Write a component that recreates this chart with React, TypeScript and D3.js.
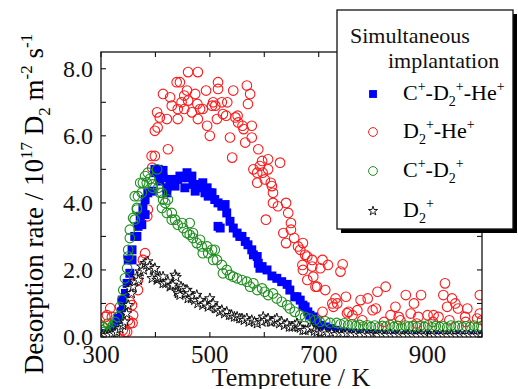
import React from 'react';
import * as d3 from 'd3';

// axis ticks
const xTickValues = [300, 400, 500, 600, 700, 800, 900, 1000];
const xTickLabels = [300, 500, 700, 900];
const yTickValues = [0, 1, 2, 3, 4, 5, 6, 7, 8];
const yTickLabels = [0, 2, 4, 6, 8];

// D2+-He+ (red open circles) [T (K), rate]
const dHe: [number, number][] = [
  [303, 0.3], [308, 0.6], [311, 0.65], [317, 0.86], [320, 0.6], [326, 0.2], [339, 0.8], [340, 0.2], [344, 0.15],
  [348, 0.15], [350, 0.5], [353, 0.4], [353, 1.05], [357, 0.95], [359, 0.65], [358, 0.42], [357, 1.6], [368, 1.4],
  [368, 1.7], [377, 2.3], [381, 2.5], [386, 3.8], [385, 3.6], [393, 5.4], [399, 5.4], [394, 5.05], [423, 5.6],
  [399, 6.15], [404, 6.25], [403, 6.7], [408, 6.55], [414, 7.25], [421, 6.5], [427, 7.15], [430, 6.9], [439, 7.6],
  [445, 7.6], [441, 6.8], [441, 6.5], [448, 7.0], [453, 7.2], [453, 6.8], [460, 7.9], [478, 7.9], [458, 7.35],
  [460, 7.05], [467, 6.7], [473, 7.25], [477, 6.95], [482, 6.8], [478, 6.5], [487, 6.8], [493, 7.35], [495, 6.3],
  [500, 6.0], [504, 6.9], [506, 7.0], [510, 6.9], [513, 6.5], [515, 7.6], [515, 7.4], [522, 7.0], [524, 6.65],
  [532, 7.0], [530, 6.6], [537, 5.95], [541, 5.35], [543, 7.35], [547, 6.55], [551, 6.6], [552, 6.4], [560, 6.3],
  [562, 6.2], [565, 5.8], [568, 7.5], [570, 6.95], [574, 7.25], [577, 5.95], [577, 6.3], [589, 5.6], [580, 5.0],
  [587, 4.9], [592, 5.1], [596, 5.25], [597, 4.9], [601, 4.7], [607, 5.3], [607, 5.0], [614, 4.5], [629, 5.2],
  [587, 4.6], [612, 4.6], [616, 4.3], [616, 4.0], [625, 3.9], [640, 4.0], [644, 3.7], [649, 3.4], [603, 3.5],
  [635, 3.1], [640, 2.8], [649, 3.2], [655, 2.95], [662, 2.7], [671, 2.8], [675, 2.45], [679, 2.4], [666, 2.6],
  [670, 2.15], [671, 2.0], [679, 1.7], [688, 2.3], [688, 2.1], [690, 1.8], [694, 1.5], [697, 1.5], [703, 2.05],
  [707, 2.3], [707, 0.75], [712, 1.4], [717, 2.15], [725, 1.0], [727, 0.9], [731, 1.15], [734, 1.0], [740, 1.95],
  [744, 2.17], [750, 1.2], [752, 0.71], [755, 0.75], [762, 0.65], [771, 0.8], [777, 1.1], [780, 0.5], [790, 1.15],
  [799, 0.8], [805, 0.85], [808, 1.35], [820, 0.45], [823, 1.5], [832, 0.65], [841, 0.9], [847, 0.6], [850, 0.5],
  [860, 1.25], [869, 0.7], [875, 1.0], [880, 0.4], [883, 0.6], [888, 1.25], [900, 0.65], [910, 0.45], [911, 0.65],
  [920, 0.6], [929, 1.25], [932, 1.6], [936, 0.9], [940, 0.5], [945, 1.15], [951, 1.0], [956, 0.85], [969, 0.6],
  [970, 0.45], [973, 0.85], [991, 0.55], [996, 1.25], [996, 0.7], [1000, 0.5],
];

// C+-D2+-He+ (blue squares)
const cdHe: [number, number][] = [
  [302, 0.1], [306, 0.05], [310, 0.1], [315, 0.12], [320, 0.2], [325, 0.3], [329, 0.4], [332, 0.55], [337, 0.75],
  [341, 0.9], [339, 1.1], [345, 1.3], [348, 1.6], [353, 1.9], [350, 2.3], [357, 2.3], [357, 2.6], [362, 3.0],
  [366, 3.0], [368, 3.3], [372, 3.6], [375, 3.35], [377, 3.85], [381, 4.1], [381, 3.65], [386, 4.3], [394, 4.35],
  [399, 4.9], [399, 5.0], [405, 5.0], [408, 4.65], [414, 4.75], [414, 4.97], [421, 4.45], [421, 4.3], [427, 4.6],
  [427, 4.7], [436, 4.5], [441, 4.7], [445, 4.8], [449, 4.75], [454, 4.45], [458, 4.9], [460, 4.75], [467, 4.8],
  [469, 4.55], [473, 4.35], [478, 4.45], [482, 4.55], [487, 4.6], [491, 4.3], [495, 4.45], [497, 4.2], [500, 4.3],
  [504, 4.3], [509, 4.1], [515, 4.0], [515, 3.3], [519, 3.25], [522, 3.9], [528, 3.95], [531, 3.7], [537, 3.45],
  [543, 3.25], [550, 3.1], [555, 3.0], [559, 3.0], [565, 2.85], [570, 2.75], [577, 2.6], [580, 2.45], [587, 2.4],
  [589, 2.2], [592, 2.05], [596, 2.1], [605, 2.0], [614, 1.82], [623, 1.75], [632, 1.65], [642, 1.57], [647, 1.4],
  [656, 1.2], [660, 1.2], [666, 1.1], [671, 0.95], [675, 0.9], [680, 0.75], [684, 0.65], [690, 0.6], [693, 0.5],
  [697, 0.42], [705, 0.35], [713, 0.3], [722, 0.25], [730, 0.2], [740, 0.15], [750, 0.12], [762, 0.1], [775, 0.1],
  [790, 0.08], [805, 0.08], [820, 0.06], [840, 0.06], [860, 0.05], [880, 0.05], [900, 0.05], [920, 0.04],
  [940, 0.04], [960, 0.04], [980, 0.04], [998, 0.04],
];

// C+-D2+ (green open circles)
const cD: [number, number][] = [
  [302, 0.2], [304, 0.3], [306, 0.15], [308, 0.25], [311, 0.1], [313, 0.4], [316, 0.2], [320, 0.27], [322, 0.35],
  [326, 0.45], [331, 0.6], [335, 0.9], [339, 1.1], [341, 1.4], [344, 1.75], [348, 2.05], [350, 2.4], [350, 2.6],
  [353, 2.95], [353, 3.2], [359, 3.55], [362, 3.5], [366, 3.8], [366, 3.85], [362, 4.2], [368, 4.2], [372, 4.6],
  [375, 4.3], [377, 4.6], [381, 4.8], [384, 4.6], [386, 4.9], [390, 4.72], [395, 4.55], [395, 4.45], [403, 5.0],
  [405, 4.45], [408, 4.3], [412, 4.3], [414, 4.1], [412, 3.85], [418, 4.0], [423, 4.1], [421, 3.7], [430, 3.7],
  [430, 3.5], [436, 3.5], [441, 3.35], [449, 3.4], [451, 3.25], [458, 3.1], [463, 3.4], [463, 3.05], [469, 3.1],
  [469, 2.95], [476, 2.8], [482, 2.9], [485, 2.7], [487, 2.5], [495, 2.7], [497, 2.5], [504, 2.6], [509, 2.6],
  [506, 2.3], [513, 2.3], [522, 2.15], [524, 1.9], [531, 2.0], [537, 1.85], [543, 1.8], [550, 1.75], [559, 1.7],
  [568, 1.65], [574, 1.5], [580, 1.6], [587, 1.4], [596, 1.45], [601, 1.35], [607, 1.25], [616, 1.3], [623, 1.15],
  [632, 1.05], [642, 0.95], [647, 0.85], [656, 0.75], [666, 0.65], [675, 0.6], [684, 0.55], [693, 0.5], [702, 0.45],
  [712, 0.47], [721, 0.42], [733, 0.42], [740, 0.38], [747, 0.41], [754, 0.35], [761, 0.38], [768, 0.33],
  [775, 0.36], [782, 0.31], [789, 0.35], [796, 0.3], [803, 0.34], [810, 0.29], [817, 0.33], [824, 0.31],
  [831, 0.36], [838, 0.3], [845, 0.33], [852, 0.28], [859, 0.34], [866, 0.31], [873, 0.33], [880, 0.29],
  [887, 0.34], [894, 0.3], [901, 0.35], [908, 0.29], [915, 0.33], [922, 0.3], [929, 0.32], [936, 0.28],
  [943, 0.34], [950, 0.31], [957, 0.33], [964, 0.29], [971, 0.32], [978, 0.3], [985, 0.34], [992, 0.3], [999, 0.32],
];

// D2+ (black open stars)
const d2: [number, number][] = [
  [302, 0.05], [308, 0.05], [314, 0.06], [320, 0.08], [325, 0.1], [329, 0.15], [335, 0.25], [340, 0.35], [344, 0.45],
  [347, 0.7], [350, 0.95], [353, 1.45], [356, 1.3], [359, 1.5], [362, 1.65], [366, 1.8], [369, 1.7], [372, 1.95],
  [375, 2.1], [378, 2.0], [381, 2.2], [384, 2.15], [386, 2.25], [389, 2.1], [394, 1.75], [396, 2.0], [399, 2.05],
  [403, 1.7], [405, 1.75], [408, 1.8], [414, 1.6], [414, 1.8], [419, 1.6], [423, 1.65], [427, 1.5], [430, 1.55],
  [432, 1.55], [436, 1.85], [438, 1.78], [440, 1.35], [442, 1.3], [445, 1.25], [447, 1.5], [451, 1.45], [455, 1.3],
  [458, 1.4], [460, 1.15], [463, 1.3], [466, 1.15], [469, 1.2], [472, 1.1], [476, 1.25], [478, 1.0], [482, 1.1],
  [487, 0.95], [491, 1.0], [497, 0.9], [500, 1.15], [503, 0.95], [506, 1.0], [510, 0.85], [513, 0.85], [518, 0.75],
  [522, 0.8], [527, 0.7], [531, 0.75], [536, 0.65], [540, 0.65], [545, 0.6], [550, 0.6], [555, 0.55], [559, 0.55],
  [563, 0.5], [568, 0.55], [572, 0.45], [577, 0.5], [582, 0.45], [587, 0.4], [592, 0.5], [596, 0.45], [598, 0.6],
  [603, 0.5], [607, 0.55], [611, 0.45], [614, 0.45], [619, 0.5], [623, 0.55], [628, 0.4], [632, 0.45], [637, 0.35],
  [642, 0.4], [646, 0.3], [651, 0.3], [656, 0.35], [660, 0.4], [663, 0.3], [666, 0.27], [671, 0.2], [675, 0.2],
  [681, 0.25], [687, 0.27], [692, 0.18], [697, 0.15], [703, 0.12], [710, 0.15], [717, 0.1], [724, 0.12], [731, 0.08],
  [738, 0.1], [745, 0.08], [752, 0.1], [760, 0.07], [768, 0.08], [776, 0.06], [784, 0.08], [792, 0.06], [800, 0.07],
  [808, 0.05], [816, 0.07], [824, 0.05], [832, 0.06], [840, 0.05], [848, 0.06], [856, 0.04], [864, 0.06], [872, 0.05],
  [880, 0.04], [888, 0.06], [896, 0.05], [904, 0.04], [912, 0.05], [920, 0.04], [928, 0.05], [936, 0.04], [944, 0.05],
  [952, 0.04], [960, 0.05], [968, 0.04], [976, 0.05], [984, 0.04], [992, 0.05], [999, 0.04],
];

const RED = '#ff1a1a';
const GREEN = '#1f8f1f';
const BLUE = '#0000ff';
const FONT = '"Liberation Serif", "Times New Roman", serif';

type Seg = [string, 'n' | 'sup' | 'sub'];

function Rich({ segs, x = 0, y = 0, size, small, anchor = 'start', transform }: {
  segs: Seg[]; x?: number; y?: number; size: number; small: number; anchor?: string; transform?: string;
}) {
  let off = 0;
  return (
    <text x={x} y={y} fontSize={size} textAnchor={anchor} transform={transform} style={{ whiteSpace: 'pre' }}>
      {segs.map(([t, k], i) => {
        const target = k === 'sup' ? -size * 0.42 : k === 'sub' ? size * 0.25 : 0;
        const dy = target - off;
        off = target;
        return <tspan key={i} dy={dy} fontSize={k === 'n' ? size : small}>{t}</tspan>;
      })}
    </text>
  );
}

export default function App() {
  const W = 518, H = 389;
  const left = 101, right = 482, top = 52, bottom = 337;

  const x = d3.scaleLinear().domain([300, 1000]).range([left, right]);
  const y = d3.scaleLinear().domain([0, 8.5]).range([bottom, top]);

  const square = d3.symbol(d3.symbolSquare, 80)()!;
  const star = d3.symbol(d3.symbolStar, 34)()!;
  const legSquare = d3.symbol(d3.symbolSquare, 62)()!;
  const legStar = d3.symbol(d3.symbolStar, 26)()!;

  const tick = 5;

  const legendRows: { segs: Seg[]; kind: string }[] = [
    { segs: [['C', 'n'], ['+', 'sup'], ['-D', 'n'], ['2', 'sub'], ['+', 'sup'], ['-He', 'n'], ['+', 'sup']], kind: 'sq' },
    { segs: [['D', 'n'], ['2', 'sub'], ['+', 'sup'], ['-He', 'n'], ['+', 'sup']], kind: 'red' },
    { segs: [['C', 'n'], ['+', 'sup'], ['-D', 'n'], ['2', 'sub'], ['+', 'sup']], kind: 'green' },
    { segs: [['D', 'n'], ['2', 'sub'], ['+', 'sup']], kind: 'star' },
  ];
  const legRowY = [100, 138, 177, 217];

  return (
    <div style={{ position: 'absolute', left: 0, top: 0 }}>
      <svg width={W} height={H} viewBox={`0 0 ${W} ${H}`} style={{ display: 'block', background: '#fff' }} fontFamily={FONT}>
        <defs>
          <clipPath id="plot">
            <rect x={left} y={top} width={right - left} height={bottom - top} />
          </clipPath>
        </defs>

        {/* data */}
        <g clipPath="url(#plot)">
          <g>
            {dHe.map(([t, v], i) => (
              <circle key={i} cx={x(t)} cy={y(v)} r={4.8} fill="none" stroke={RED} strokeWidth={1.1} />
            ))}
          </g>
          <g fill={BLUE}>
            {cdHe.map(([t, v], i) => (
              <path key={i} d={square} transform={`translate(${x(t)},${y(v)})`} />
            ))}
          </g>
          <g>
            {cD.map(([t, v], i) => (
              <circle key={i} cx={x(t)} cy={y(v)} r={4.8} fill="none" stroke={GREEN} strokeWidth={1.1} />
            ))}
          </g>
          <g>
            {d2.map(([t, v], i) => (
              <path key={i} d={star} transform={`translate(${x(t)},${y(v)})`} fill="#fff" stroke="#000" strokeWidth={0.9} />
            ))}
          </g>
        </g>

        {/* frame and ticks */}
        <rect x={left} y={top} width={right - left} height={bottom - top} fill="none" stroke="#111" strokeWidth={1.3} />
        <g stroke="#111" strokeWidth={1.1}>
          {xTickValues.map(t => (
            <g key={t}>
              <line x1={x(t)} x2={x(t)} y1={bottom} y2={bottom - tick} />
              <line x1={x(t)} x2={x(t)} y1={top} y2={top + tick} />
            </g>
          ))}
          {yTickValues.map(v => (
            <g key={v}>
              <line x1={left} x2={left + tick} y1={y(v)} y2={y(v)} />
              <line x1={right} x2={right - tick} y1={y(v)} y2={y(v)} />
            </g>
          ))}
        </g>

        {/* tick labels */}
        <g fontSize={25} fill="#111">
          {xTickLabels.map(t => (
            <text key={t} x={x(t)} y={363} textAnchor="middle">{t}</text>
          ))}
        </g>
        <g fontSize={24} fill="#111">
          {yTickLabels.map(v => (
            <text key={v} x={93} y={y(v)} dy="0.34em" textAnchor="end">{v.toFixed(1)}</text>
          ))}
        </g>

        {/* axis titles */}
        <text x={291} y={386} fontSize={26} textAnchor="middle" fill="#111">Tempreture / K</text>
        <Rich
          transform="translate(43,204) rotate(-90)"
          anchor="middle"
          size={27}
          small={17}
          segs={[
            ['Desorption rate / 10', 'n'], ['17', 'sup'], [' D', 'n'], ['2', 'sub'], [' m', 'n'],
            ['-2', 'sup'], [' s', 'n'], ['-1', 'sup'],
          ]}
        />

        {/* legend */}
        <rect x={341} y={14} width={176} height={219} fill="#000" />
        <rect x={337} y={10} width={176} height={219} fill="#fff" stroke="#111" strokeWidth={1.3} />
        <g fontSize={22} fill="#111">
          <text x={350} y={43}>Simultaneous</text>
          <text x={388} y={68}>implantation</text>
        </g>
        {legendRows.map((r, i) => {
          const cy = legRowY[i] - 6;
          return (
            <g key={i}>
              {r.kind === 'sq' && <path d={legSquare} transform={`translate(373,${cy})`} fill={BLUE} />}
              {r.kind === 'red' && <circle cx={373} cy={cy} r={4.4} fill="none" stroke={RED} strokeWidth={1} />}
              {r.kind === 'green' && <circle cx={373} cy={cy} r={4.4} fill="none" stroke={GREEN} strokeWidth={1} />}
              {r.kind === 'star' && <path d={legStar} transform={`translate(373,${cy})`} fill="#fff" stroke="#000" strokeWidth={0.9} />}
              <Rich x={403} y={legRowY[i]} size={22} small={14} segs={r.segs} />
            </g>
          );
        })}
      </svg>
    </div>
  );
}
